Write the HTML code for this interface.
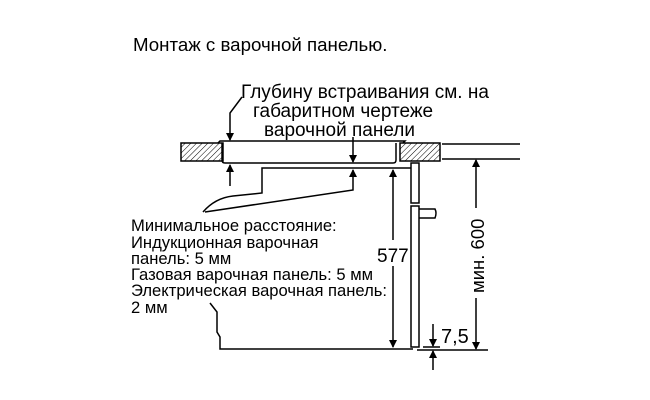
<!DOCTYPE html>
<html><head><meta charset="utf-8"><style>
body{margin:0;background:#fff}
svg{display:block}
text{font-family:"Liberation Sans",sans-serif;fill:#000}
</style></head><body>
<svg width="650" height="400" viewBox="0 0 650 400" xmlns="http://www.w3.org/2000/svg">
<defs>
<pattern id="h" width="4" height="4" patternUnits="userSpaceOnUse" patternTransform="rotate(45)">
<line x1="0" y1="0" x2="0" y2="4" stroke="#000" stroke-width="1"/>
</pattern>
<marker id="a" markerWidth="8" markerHeight="10" refX="7" refY="5" orient="auto" markerUnits="userSpaceOnUse">
<path d="M0,1 L8,5 L0,9 z" fill="#000"/>
</marker>
</defs>
<text x="133" y="51" font-size="18.7">Монтаж с варочной панелью.</text>
<text x="241" y="98" font-size="19">Глубину встраивания см. на</text>
<text x="253" y="117" font-size="19">габаритном чертеже</text>
<text x="264" y="136" font-size="19">варочной панели</text>
<g font-size="16.6">
<text x="131" y="231">Минимальное расстояние:</text>
<text x="131" y="248">Индукционная варочная</text>
<text x="131" y="264">панель: 5 мм</text>
<text x="131" y="280">Газовая варочная панель: 5 мм</text>
<text x="131" y="296">Электрическая варочная панель:</text>
<text x="131" y="313">2 мм</text>
</g>
<g stroke="#000" stroke-width="1.5" fill="none">
<rect x="181" y="143" width="42" height="18" fill="url(#h)"/>
<rect x="400" y="143" width="40" height="18" fill="url(#h)"/>
<path d="M218,143 L220,141 L405,141 L403,143"/>
<path d="M222,143 L222,160 Q222,163 225,163 L393,163 Q396,163 396,160 L396,143"/>
<path d="M203,212 Q215,198 233,196 L262,193 L262,168 L411,168"/>
<path d="M411,163 L419,163 L419,203 L411,203 Z M411,206 L419,206 L419,347 L411,347 Z"/>
<path d="M419,209 L435,209 Q437,213 435,218 L419,218"/>
<path d="M210,303 L217,312 L217,332 L220,337 L220,349 L413,349"/>
<line x1="442" y1="144" x2="520" y2="144"/>
<line x1="442" y1="159" x2="520" y2="159"/>
<line x1="417" y1="350" x2="488" y2="350"/>
<line x1="423" y1="347" x2="440" y2="347"/>
<path d="M242,97 L230,113 L230,140" marker-end="url(#a)"/>
<line x1="230" y1="186" x2="230" y2="165" marker-end="url(#a)"/>
<line x1="353" y1="137" x2="353" y2="162" marker-end="url(#a)"/>
<path d="M205,212 L353,190 L353,170" marker-end="url(#a)"/>
<line x1="393" y1="258" x2="393" y2="170" marker-end="url(#a)"/>
<line x1="393" y1="258" x2="393" y2="347" marker-end="url(#a)"/>
<line x1="476" y1="255" x2="476" y2="160" marker-end="url(#a)"/>
<line x1="476" y1="255" x2="476" y2="349" marker-end="url(#a)"/>
<line x1="433" y1="324" x2="433" y2="346" marker-end="url(#a)"/>
<line x1="433" y1="370" x2="433" y2="351" marker-end="url(#a)"/>
</g>
<rect x="375" y="240" width="34" height="26" fill="#fff"/>
<text x="377" y="262" font-size="19">577</text>
<rect x="464" y="208" width="24" height="90" fill="#fff"/>
<text transform="translate(484,293) rotate(-90)" font-size="18.5">мин. 600</text>
<text x="441" y="343" font-size="20">7,5</text>
</svg>
</body></html>
